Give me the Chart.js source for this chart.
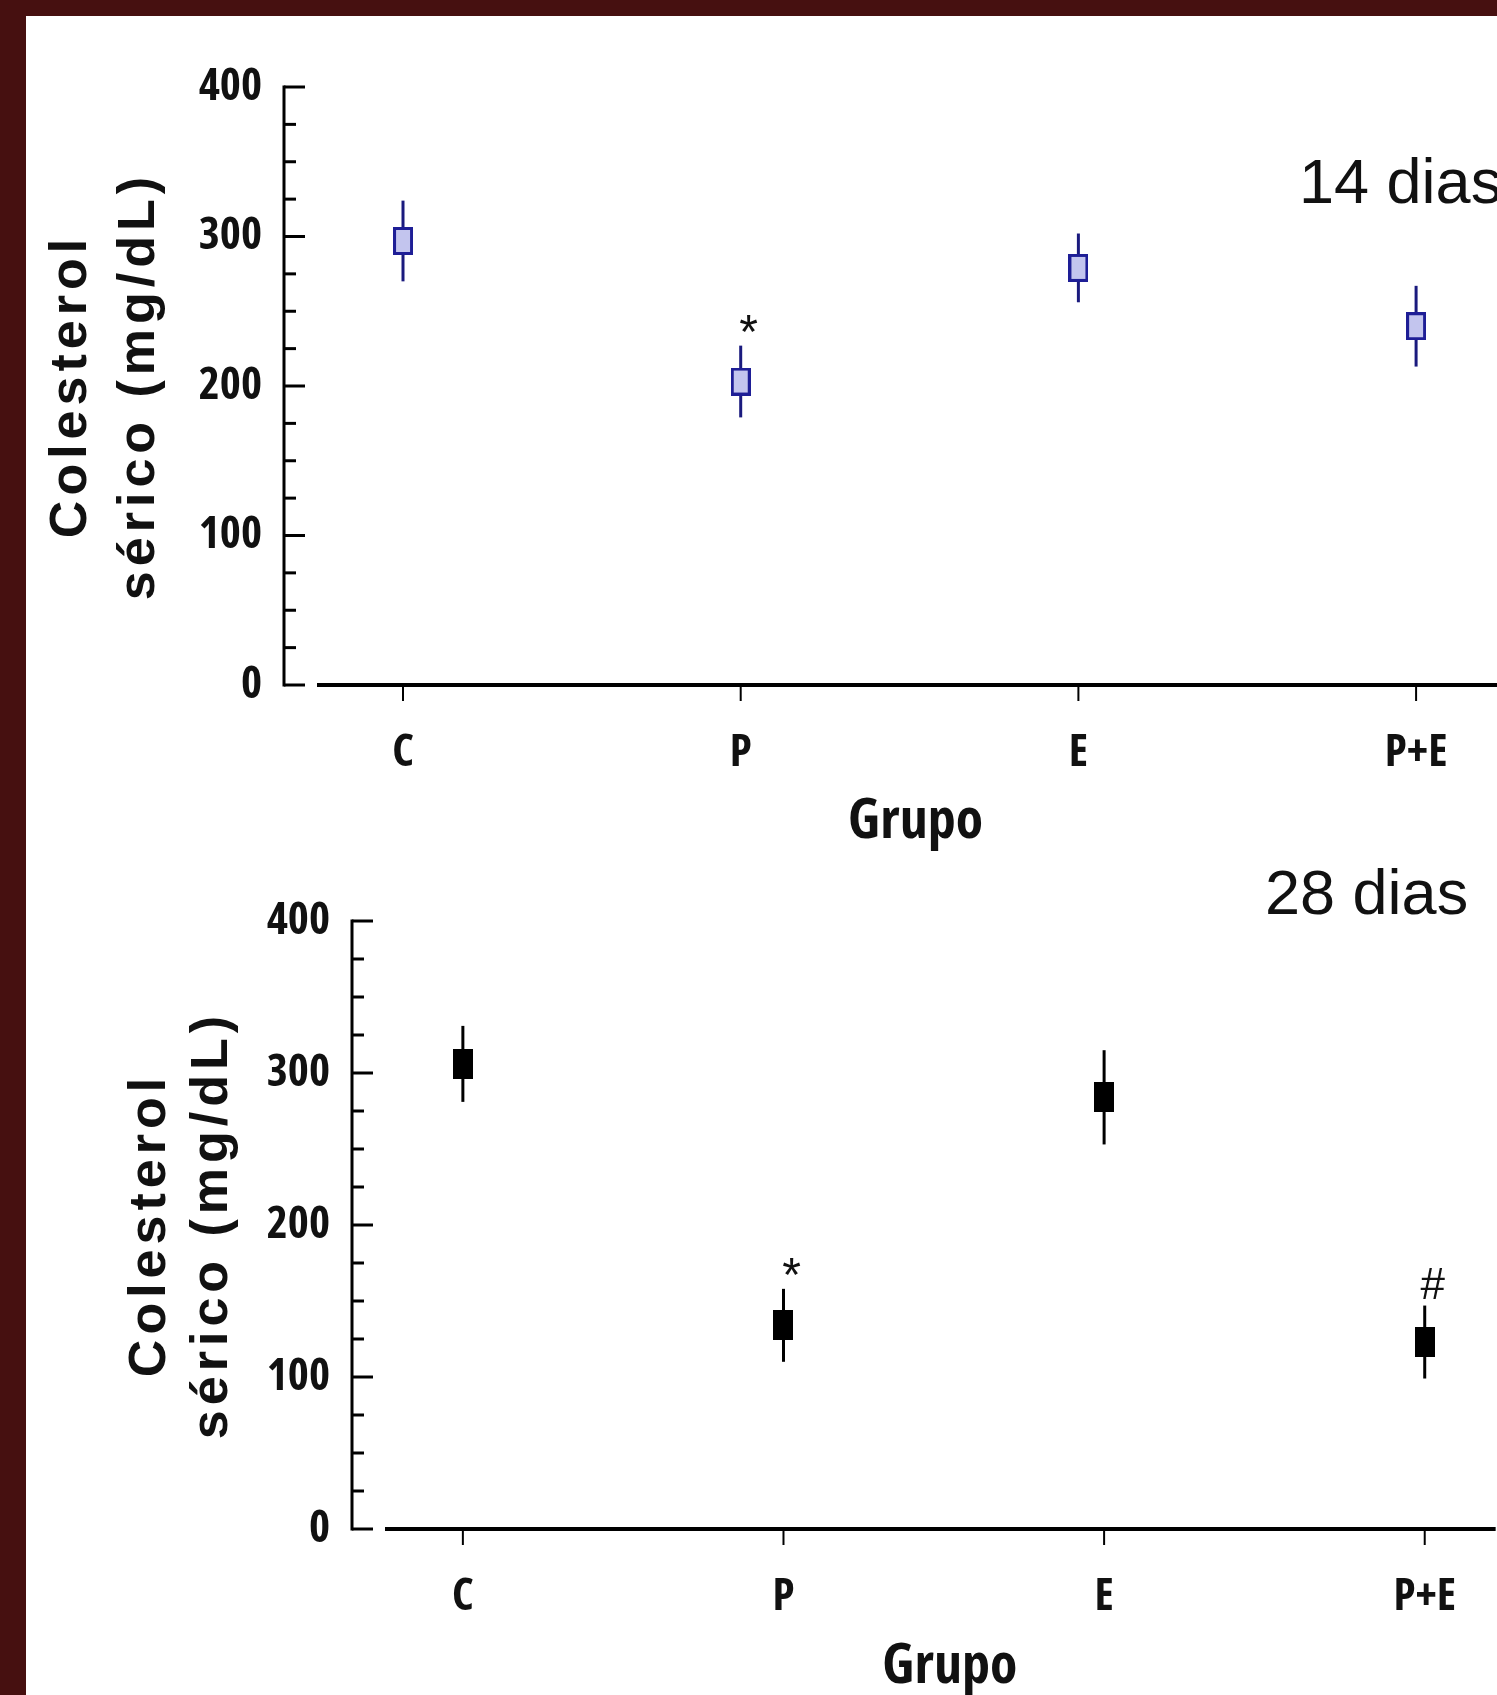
<!DOCTYPE html>
<html>
<head>
<meta charset="utf-8">
<script src="https://cdn.jsdelivr.net/npm/chart.js@4.4.1/dist/chart.umd.min.js"></script>
<style>
    body { margin: 0; width: 1497px; height: 1695px; overflow: hidden; background: #461010; position: relative; }
    #panel { position: absolute; left: 26px; top: 16px; width: 1471px; height: 1679px; background: #fff; overflow: hidden; }
    #c14 { position: absolute; left: 0; top: 0; }
    #c28 { position: absolute; left: 0; top: 844px; }
</style>
</head>
<body>
<div id="panel">
    <canvas id="c14" width="1471" height="844"></canvas>
    <canvas id="c28" width="1471" height="860"></canvas>
</div>
<script>
const groups = ["C", "P", "E", "P+E"];
const yTicks = [0, 100, 200, 300, 400];

// 14 dias
const mean14 = [297, 203, 279, 240];
const err14 = [27, 24, 23, 27];
const sig14 = ["", "*", "", ""];

// 28 dias
const mean28 = [306, 134, 284, 123];
const err28 = [25, 24, 31, 24];
const sig28 = ["", "*", "", "#"];

const sans = '"Liberation Sans", Arial, sans-serif';

// the original axis labels use a condensed face; take the narrowest one installed
function pickNarrow() {
    const g = document.createElement("canvas").getContext("2d");
    const families = ['"Liberation Sans Narrow"', '"DejaVu Sans Condensed"', '"Noto Sans"', '"DejaVu Sans"', '"Liberation Sans"', "Roboto", '"Open Sans"'];
    const stretches = ["", "extra-condensed ", "condensed ", "semi-condensed "];
    g.font = "bold 100px monospace";
    const mono = g.measureText("400").width;
    let best = { w: 166.8, weight: "bold", family: '"Liberation Sans"' };
    families.forEach(f => stretches.forEach(s => {
        g.font = "bold 100px monospace";
        g.font = "bold " + s + "100px " + f + ", monospace";
        const w = g.measureText("400").width;
        if (Math.abs(w - mono) > 0.5 && w < best.w) best = { w: w, weight: ("bold " + s).trim(), family: f };
    }));
    g.font = best.weight + " 100px " + best.family;
    best.grupo = g.measureText("Grupo").width;
    return best;
}
const narrow = pickNarrow();
const tickSize = Math.round(Math.min(47, Math.max(40, 6300 / narrow.w)));
const grupoSize = Math.round(Math.min(56, Math.max(40, 14400 / narrow.grupo)));

function makeBox(w, h, fill, stroke, lw) {
    const c = document.createElement("canvas");
    c.width = w;
    c.height = h;
    const g = c.getContext("2d");
    g.fillStyle = stroke;
    g.fillRect(0, 0, w, h);
    if (lw > 0) {
        g.fillStyle = fill;
        g.fillRect(lw, lw, w - 2 * lw, h - 2 * lw);
    }
    return c;
}

function decor(cfg) {
    return {
        id: "decor",
        beforeDatasetsDraw(chart) {
            const { ctx, chartArea: a, scales: { x, y } } = chart;
            const y0 = y.getPixelForValue(0);
            ctx.save();
            ctx.strokeStyle = "#000";
            ctx.lineWidth = 3;
            ctx.beginPath();
            ctx.moveTo(a.left, y.getPixelForValue(400) - 1.5);
            ctx.lineTo(a.left, y0 + 1.5);
            ctx.stroke();
            y.ticks.forEach(t => {
                const py = y.getPixelForValue(t.value);
                const len = yTicks.includes(t.value) ? 21 : 12;
                ctx.beginPath();
                ctx.moveTo(a.left, py);
                ctx.lineTo(a.left + len, py);
                ctx.stroke();
            });
            ctx.lineWidth = 4;
            ctx.beginPath();
            ctx.moveTo(a.left + 33, y0);
            ctx.lineTo(a.right, y0);
            ctx.stroke();
            ctx.lineWidth = 2;
            x.ticks.forEach(t => {
                const px = x.getPixelForValue(t.value);
                ctx.beginPath();
                ctx.moveTo(px, y0 + 2);
                ctx.lineTo(px, y0 + 16);
                ctx.stroke();
            });
            // error bars
            ctx.strokeStyle = cfg.whisker;
            ctx.lineWidth = cfg.whiskerWidth;
            cfg.mean.forEach((m, i) => {
                const px = x.getPixelForValue(i);
                ctx.beginPath();
                ctx.moveTo(px, y.getPixelForValue(m + cfg.err[i]));
                ctx.lineTo(px, y.getPixelForValue(m - cfg.err[i]));
                ctx.stroke();
            });
            ctx.restore();
        },
        afterDraw(chart) {
            const { ctx, chartArea: a, scales: { x, y } } = chart;
            ctx.save();
            ctx.fillStyle = "#111";

            // significance marks
            ctx.textAlign = "center";
            ctx.textBaseline = "alphabetic";
            cfg.sig.forEach((s, i) => {
                if (!s) return;
                ctx.font = (s === "*" ? "48px " : "44px ") + sans;
                const m = ctx.measureText(s);
                const cy = y.getPixelForValue(cfg.mean[i] + cfg.err[i]) - 22;
                const base = cy + (m.actualBoundingBoxAscent - m.actualBoundingBoxDescent) / 2;
                ctx.fillText(s, x.getPixelForValue(i) + 8, base);
            });

            // day label
            ctx.font = "63px " + sans;
            ctx.textAlign = "left";
            ctx.fillText(cfg.label, cfg.labelX, cfg.labelY);

            // x title
            ctx.font = narrow.weight + " " + grupoSize + "px " + narrow.family;
            ctx.textAlign = "center";
            ctx.fillText("Grupo", x.getPixelForValue(1.5) + 6, cfg.grupoY);

            // y title
            const cy = (a.top + a.bottom) / 2;
            ctx.font = "bold 52px " + sans;
            ctx.textBaseline = "middle";
            [["Colesterol", cfg.t1, "5px"], ["sérico (mg/dL)", cfg.t2, "5px"]].forEach(([txt, tx, ls]) => {
                ctx.save();
                ctx.letterSpacing = ls;
                ctx.translate(tx, cy);
                ctx.rotate(-Math.PI / 2);
                ctx.fillText(txt, 0, 0);
                ctx.restore();
            });
            ctx.restore();
        }
    };
}

function buildChart(id, cfg) {
    const canvas = document.getElementById(id);
    const H = canvas.height;
    const tickFont = { family: narrow.family, size: tickSize, weight: narrow.weight };
    new Chart(canvas.getContext("2d"), {
        type: "scatter",
        data: {
            datasets: [{
                data: cfg.mean.map((m, i) => ({ x: i, y: m })),
                pointStyle: cfg.marker,
                pointRadius: 12,
                pointHoverRadius: 12
            }]
        },
        options: {
            responsive: false,
            animation: false,
            devicePixelRatio: 1,
            events: [],
            layout: { autoPadding: false, padding: { top: cfg.top, left: 0, right: 0, bottom: 0 } },
            plugins: { legend: { display: false }, tooltip: { enabled: false } },
            scales: {
                x: {
                    type: "linear",
                    bounds: "data",
                    min: cfg.xMin,
                    max: cfg.xMax,
                    grid: { display: false, drawTicks: false },
                    border: { display: false },
                    afterBuildTicks: s => { s.ticks = groups.map((g, i) => ({ value: i })); },
                    afterFit: s => { s.height = H - 669; },
                    ticks: {
                        autoSkip: false,
                        maxRotation: 0,
                        padding: 41,
                        color: "#111",
                        font: tickFont,
                        callback: v => groups[v]
                    }
                },
                y: {
                    min: 0,
                    max: 400,
                    grid: { display: false, drawTicks: false },
                    border: { display: false },
                    afterFit: s => { s.width = cfg.left; },
                    ticks: {
                        stepSize: 25,
                        autoSkip: false,
                        padding: 22,
                        color: "#111",
                        font: tickFont,
                        callback: v => yTicks.includes(v) ? String(v) : ""
                    }
                }
            }
        },
        plugins: [decor(cfg)]
    });
}

buildChart("c14", {
    mean: mean14, err: err14, sig: sig14,
    marker: makeBox(20, 28, "#c3c5ee", "#1e1e96", 3),
    whisker: "#1a1a7e", whiskerWidth: 3,
    left: 258, top: 71, xMin: -0.3524, xMax: 3.2396,
    label: "14 dias", labelX: 1273, labelY: 187,
    grupoY: 822, t1: 46, t2: 114
});

buildChart("c28", {
    mean: mean28, err: err28, sig: sig28,
    marker: makeBox(20, 30, "#000", "#000", 0),
    whisker: "#000", whiskerWidth: 3,
    left: 326, top: 61, xMin: -0.3458, xMax: 3.2212,
    label: "28 dias", labelX: 1239, labelY: 54,
    grupoY: 823, t1: 125, t2: 187
});
</script>
</body>
</html>
